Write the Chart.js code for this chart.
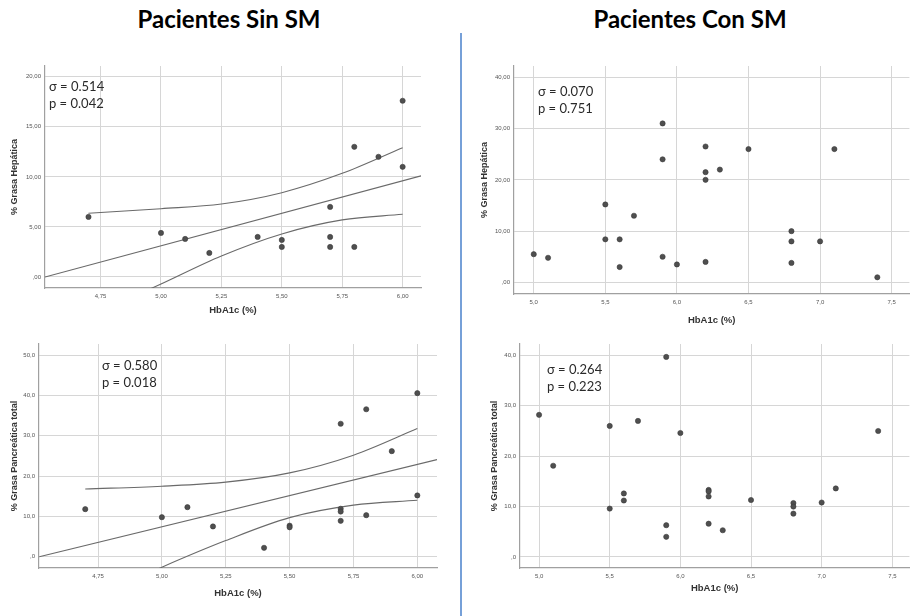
<!DOCTYPE html>
<html>
<head>
<meta charset="utf-8">
<script src="https://cdn.jsdelivr.net/npm/chart.js@4.4.1/dist/chart.umd.min.js"></script>
<style>
  body { margin: 0; background: #fff; width: 914px; height: 616px; position: relative; overflow: hidden; }
  .title { position: absolute; top: 4px; font: bold 24px Lato, "Liberation Sans", sans-serif; color: #000; transform: translateX(-50%); white-space: nowrap; }
  .divider { position: absolute; left: 460px; top: 33px; width: 2px; height: 583px; background: #76a0d8; }
  canvas { position: absolute; }
</style>
</head>
<body>
<div class="title" style="left:229px">Pacientes Sin SM</div>
<div class="title" style="left:690px">Pacientes Con SM</div>
<div class="divider"></div>
<canvas id="c1"></canvas>
<canvas id="c2"></canvas>
<canvas id="c3"></canvas>
<canvas id="c4"></canvas>
<script>
// pacientes sin SM
const sinHbA1c = [4.7, 5.0, 5.1, 5.2, 5.4, 5.5, 5.5, 5.7, 5.7, 5.7, 5.8, 5.8, 5.9, 6.0, 6.0];
const sinHepatica = [6.0, 4.4, 3.8, 2.4, 4.0, 3.7, 3.0, 7.0, 4.0, 3.0, 13.0, 3.0, 12.0, 17.6, 11.0];
const sinHbA1cPanc = [4.7, 5.0, 5.1, 5.2, 5.4, 5.5, 5.5, 5.7, 5.7, 5.7, 5.7, 5.8, 5.8, 5.9, 6.0, 6.0];
const sinPancreatica = [11.8, 9.8, 12.3, 7.5, 2.2, 7.7, 7.3, 33.0, 11.9, 11.2, 8.9, 36.6, 10.3, 26.2, 40.6, 15.2];

// recta de ajuste e intervalo de confianza
const bandX = [4.7, 5.0, 5.25, 5.5, 5.75, 6.0];
const hepFitX = [4.52, 6.076];
const hepFitY = [0.0, 10.1];
const hepUpper = [6.36, 6.82, 7.29, 8.42, 10.35, 12.91];
const hepLower = [-4.0, -0.7, 2.1, 4.3, 5.7, 6.26];
const pancFitX = [4.52, 6.077];
const pancFitY = [0.0, 24.1];
const pancUpper = [16.8, 17.5, 18.5, 20.8, 25.2, 31.8];
const pancLower = [-11.2, -2.6, 4.0, 9.7, 12.8, 14.0];

// pacientes con SM
const conHbA1c = [5.0, 5.1, 5.5, 5.5, 5.6, 5.6, 5.7, 5.9, 5.9, 5.9, 6.0, 6.2, 6.2, 6.2, 6.2, 6.3, 6.5, 6.8, 6.8, 6.8, 7.0, 7.1, 7.4];
const conHepatica = [5.5, 4.8, 15.2, 8.4, 8.4, 3.0, 13.0, 31.0, 24.0, 5.0, 3.5, 26.5, 21.5, 20.0, 4.0, 22.0, 26.0, 10.0, 8.0, 3.8, 8.0, 26.0, 1.0];
const conPancreatica = [28.2, 18.1, 26.0, 9.6, 12.6, 11.2, 27.0, 39.7, 6.3, 4.0, 24.6, 13.3, 13.0, 12.0, 6.6, 5.3, 11.3, 10.7, 10.0, 8.6, 10.8, 13.6, 25.0];

// ticks
const xTicksSin = [4.75, 5.0, 5.25, 5.5, 5.75, 6.0];
const xTicksCon = [5.0, 5.5, 6.0, 6.5, 7.0, 7.5];
const yTicksHep = [0, 5, 10, 15, 20];
const yTicksHepCon = [0, 10, 20, 30, 40];
const yTicksPanc = [0, 10, 20, 30, 40, 50];
const yTicksPancCon = [0, 10, 20, 30, 40];

const statsSinHep = ["σ = 0.514", "p = 0.042"];
const statsConHep = ["σ = 0.070", "p = 0.751"];
const statsSinPanc = ["σ = 0.580", "p = 0.018"];
const statsConPanc = ["σ = 0.264", "p = 0.223"];

const fmt = (v, d) => Number(v).toFixed(d).replace(".", ",").replace(/^0,/, ",");
const pts = (xs, ys) => xs.map((x, i) => ({ x: x, y: ys[i] }));

const statsText = {
  id: "statsText",
  afterDatasetsDraw(chart, args, opts) {
    const ctx = chart.ctx;
    const a = chart.chartArea;
    ctx.save();
    ctx.font = '13px Lato, "Liberation Sans", sans-serif';
    ctx.fillStyle = "#2a2a2a";
    ctx.textBaseline = "middle";
    opts.lines.forEach((t, i) => ctx.fillText(t, a.left + opts.dx, a.top + opts.dy + i * 17));
    ctx.restore();
  },
};

const pointSet = (data) => ({
  data: data,
  pointRadius: 2.6,
  backgroundColor: "#4f4f4f",
  borderColor: "#3a3a3a",
  borderWidth: 0.6,
  showLine: false,
  order: 0,
});

const lineSet = (data) => ({
  data: data,
  showLine: true,
  pointRadius: 0,
  borderColor: "#6a6a6a",
  borderWidth: 1.1,
  cubicInterpolationMode: "monotone",
  fill: false,
  order: 1,
});

function panel(id, box, area, c) {
  const cv = document.getElementById(id);
  cv.width = box.w;
  cv.height = box.h;
  cv.style.left = box.x + "px";
  cv.style.top = box.y + "px";
  const yW = area.left - box.x;
  const xH = box.y + box.h - area.bottom;

  new Chart(cv, {
    type: "scatter",
    data: { datasets: c.datasets },
    options: {
      responsive: false,
      animation: false,
      events: [],
      layout: { padding: { top: area.top - box.y, right: box.x + box.w - area.right, bottom: 0, left: 0 } },
      plugins: {
        legend: { display: false },
        tooltip: { enabled: false },
        statsText: { lines: c.stats, dx: c.sx, dy: c.sy },
      },
      scales: {
        x: {
          type: "linear",
          min: c.xMin,
          max: c.xMax,
          afterBuildTicks: (s) => { s.ticks = c.xTicks.map((v) => ({ value: v })); },
          afterFit: (s) => { s.height = xH; },
          grid: { color: "#d6d6d6", lineWidth: 1, drawTicks: false },
          border: { color: "#a0a0a0", width: 1.2 },
          ticks: {
            autoSkip: false, maxRotation: 0, padding: 5, color: "#555",
            font: { size: 6, family: '"Liberation Sans", Arial, sans-serif' },
            callback: (v) => fmt(v, c.xDec),
          },
          title: {
            display: true, text: "HbA1c (%)", color: "#333",
            font: { size: 9.5, weight: "bold", family: '"Liberation Sans", Arial, sans-serif' },
            padding: { top: 0, bottom: c.xtPad },
          },
        },
        y: {
          type: "linear",
          min: c.yMin,
          max: c.yMax,
          afterBuildTicks: (s) => { s.ticks = c.yTicks.map((v) => ({ value: v })); },
          afterFit: (s) => { s.width = yW; },
          grid: { color: "#d6d6d6", lineWidth: 1, drawTicks: false },
          border: { color: "#a0a0a0", width: 1.2 },
          ticks: {
            autoSkip: false, padding: 4, color: "#555",
            font: { size: 6, family: '"Liberation Sans", Arial, sans-serif' },
            callback: (v) => fmt(v, c.yDec),
          },
          title: {
            display: true, text: c.yTitle, color: "#333",
            font: { size: 9, weight: "bold", family: '"Liberation Sans", Arial, sans-serif' },
            padding: { top: c.ytPad, bottom: 0 },
          },
        },
      },
    },
    plugins: [statsText],
  });
}

panel("c1", { x: 0, y: 54, w: 460, h: 274 }, { left: 45, top: 66, right: 421, bottom: 288 }, {
  datasets: [
    pointSet(pts(sinHbA1c, sinHepatica)),
    lineSet(pts(hepFitX, hepFitY)),
    lineSet(pts(bandX, hepUpper)),
    lineSet(pts(bandX, hepLower)),
  ],
  xMin: 4.52, xMax: 6.076, yMin: -1.1, yMax: 21.07,
  xTicks: xTicksSin, yTicks: yTicksHep, xDec: 2, yDec: 2,
  yTitle: "% Grasa Hepática", xtPad: 12.3, ytPad: 9.6,
  stats: statsSinHep, sx: 4, sy: 21,
});

panel("c2", { x: 465, y: 54, w: 449, h: 280 }, { left: 514, top: 66, right: 914, bottom: 294 }, {
  datasets: [pointSet(pts(conHbA1c, conHepatica))],
  xMin: 4.862, xMax: 7.624, yMin: -2.26, yMax: 42.2,
  xTicks: xTicksCon, yTicks: yTicksHepCon, xDec: 1, yDec: 2,
  yTitle: "% Grasa Hepática", xtPad: 8.3, ytPad: 14.6,
  stats: statsConHep, sx: 24, sy: 26,
});

panel("c3", { x: 0, y: 332, w: 460, h: 276 }, { left: 39, top: 344, right: 437, bottom: 568 }, {
  datasets: [
    pointSet(pts(sinHbA1cPanc, sinPancreatica)),
    lineSet(pts(pancFitX, pancFitY)),
    lineSet(pts(bandX, pancUpper)),
    lineSet(pts(bandX, pancLower)),
  ],
  xMin: 4.519, xMax: 6.077, yMin: -2.81, yMax: 52.8,
  xTicks: xTicksSin, yTicks: yTicksPanc, xDec: 2, yDec: 1,
  yTitle: "% Grasa Pancreática total", xtPad: 9.3, ytPad: 9.6,
  stats: statsSinPanc, sx: 63, sy: 22,
});

panel("c4", { x: 465, y: 332, w: 449, h: 276 }, { left: 520, top: 344, right: 914, bottom: 568 }, {
  datasets: [pointSet(pts(conHbA1c, conPancreatica))],
  xMin: 4.865, xMax: 7.621, yMin: -2.19, yMax: 42.26,
  xTicks: xTicksCon, yTicks: yTicksPancCon, xDec: 1, yDec: 1,
  yTitle: "% Grasa Pancreática total", xtPad: 14.3, ytPad: 24.6,
  stats: statsConPanc, sx: 27, sy: 26,
});
</script>
</body>
</html>
